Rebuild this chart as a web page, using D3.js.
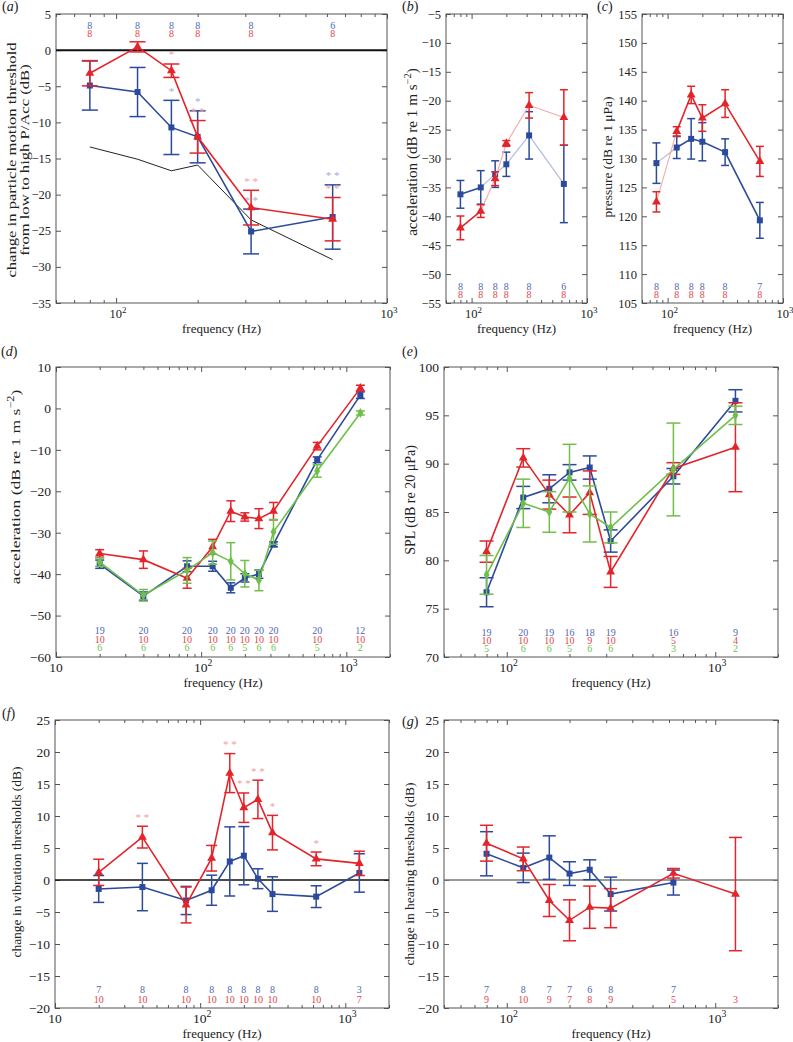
<!DOCTYPE html>
<html><head><meta charset="utf-8">
<script src="https://cdn.jsdelivr.net/npm/d3@7"></script>
<style>body{margin:0;background:#fff}svg{display:block}</style>
</head><body><script>
// ---------------- DATA ----------------
const freqABC = [80, 120, 160, 200, 315, 630];
// (a) change in particle-motion threshold
const aBlue    = [-4.9, -5.8, -10.7, -12.0, -25.1, -23.1];
const aBlueErr = [3.4, 3.4, 3.75, 3.6, 3.1, 4.45];
const aRed     = [-3.2, 0.45, -2.85, -12.0, -21.8, -23.4];
const aRedErr  = [1.75, 0.7, 0.93, 2.25, 2.4, 3.0];
const aModel   = [-13.4, -15.1, -16.7, -15.9, -23.5, -29.0];
const aBlueN   = [8, 8, 8, 8, 8, 6];
const aRedN    = [8, 8, 8, 8, 8, 8];
const aBlueSig = ["", "", "*", "*", "* *", "* *"];
const aRedSig  = ["", "", "*", "* *", "* *", "* *"];
// (b) acceleration
const bBlue    = [-36.2, -35.0, -32.7, -31.0, -26.0, -34.4];
const bBlueErr = [2.4, 2.9, 2.3, 2.1, 4.1, 6.7];
const bRed     = [-42.0, -39.1, -33.5, -27.4, -20.8, -22.9];
const bRedErr  = [2.05, 1.1, 1.2, 0.5, 2.2, 4.8];
const bBlueN   = [8, 8, 8, 8, 8, 6];
const bRedN    = [8, 8, 8, 8, 8, 8];
// (c) pressure
const cBlue    = [129.2, 131.9, 133.4, 132.9, 131.1, 119.3];
const cBlueErr = [3.5, 1.9, 3.5, 3.3, 2.3, 3.1];
const cRed     = [122.5, 134.7, 141.0, 137.0, 139.5, 129.5];
const cRedErr  = [1.75, 0.8, 1.5, 2.3, 2.4, 2.6];
const cBlueN   = [8, 8, 8, 8, 8, 7];
const cRedN    = [8, 8, 8, 8, 8, 8];
// (d) acceleration, three groups
const freqDF   = [20, 40, 80, 120, 160, 200, 250, 315, 630, 1250];
const dBlue     = [-37.6, -45.3, -38.1, -38.1, -43.3, -40.9, -40.0, -32.8, -12.4, 3.2];
const dBlueErr  = [1.0, 1.0, 1.3, 1.2, 1.2, 1.0, 1.0, 0.6, 0.7, 0.8];
const dRed      = [-35.0, -36.5, -41.0, -33.4, -24.8, -26.2, -26.6, -24.8, -9.1, 4.9];
const dRedErr   = [0.9, 2.1, 2.4, 1.8, 2.5, 1.0, 2.4, 2.1, 0.9, 0.7];
const dGreen    = [-37.1, -45.1, -39.1, -34.8, -36.9, -39.9, -41.5, -29.8, -15.1, -1.1];
const dGreenErr = [1.0, 1.4, 3.1, 2.8, 4.5, 3.2, 2.5, 3.0, 1.5, 0.5];
const dBlueN  = [19, 20, 20, 20, 20, 20, 20, 20, 20, 12];
const dRedN   = [10, 10, 10, 10, 10, 10, 10, 10, 10, 10];
const dGreenN = [6, 6, 6, 6, 6, 5, 6, 6, 5, 2];
// (e) SPL, three groups
const freqEG   = [80, 120, 160, 200, 250, 315, 630, 1250];
const eBlue     = [76.7, 86.5, 87.4, 89.1, 89.6, 82.0, 88.7, 96.5];
const eBlueErr  = [1.5, 1.15, 1.45, 0.8, 1.2, 1.15, 0.8, 1.15];
const eRed      = [80.9, 90.6, 86.8, 84.7, 87.0, 78.8, 89.5, 91.7];
const eRedErr   = [1.1, 0.95, 1.5, 1.85, 2.25, 1.6, 0.6, 4.6];
const eGreen    = [78.5, 85.9, 85.0, 88.5, 84.8, 83.4, 89.4, 95.0];
const eGreenErr = [2.0, 2.5, 2.1, 3.5, 2.9, 1.6, 4.8, 0.95];
const eBlueN  = [19, 20, 19, 16, 18, 19, 16, 9];
const eRedN   = [10, 10, 10, 10, 9, 10, 5, 4];
const eGreenN = [5, 6, 6, 5, 6, 6, 3, 2];
// (f) change in vibration thresholds
const fBlue    = [-1.4, -1.1, -3.2, -1.6, 2.9, 3.8, 0.2, -2.2, -2.6, 1.1];
const fBlueErr = [2.1, 3.7, 2.2, 2.35, 5.4, 4.55, 1.55, 2.7, 1.7, 3.0];
const fRed     = [1.2, 6.7, -3.9, 3.4, 16.7, 11.3, 12.6, 7.4, 3.3, 2.6];
const fRedErr  = [2.05, 1.7, 2.8, 2.0, 3.05, 2.3, 3.0, 2.7, 1.07, 1.9];
const fRedSig  = ["", "* *", "", "", "* *", "* *", "* *", "*", "*", ""];
const fBlueN   = [7, 8, 8, 8, 8, 8, 8, 8, 8, 3];
const fRedN    = [10, 10, 10, 10, 10, 10, 10, 10, 10, 7];
// (g) change in hearing thresholds (blue has no 1250 Hz point)
const gBlue    = [4.1, 1.9, 3.5, 1.0, 1.6, -2.2, -0.4];
const gBlueErr = [3.45, 2.3, 3.4, 1.85, 1.55, 2.65, 1.95];
const gRed     = [5.75, 3.3, -3.2, -6.3, -4.25, -4.4, 1.05, -2.2];
const gRedErr  = [2.8, 1.85, 2.5, 3.2, 3.3, 3.05, 0.75, 8.85];
const gBlueN   = [7, 8, 7, 7, 6, 8, 7];
const gRedN    = [9, 10, 9, 7, 8, 9, 5, 3];

// ---------------- DRAWING ----------------
const FONT = '"Liberation Serif","Times New Roman",serif';
const svg = d3.select("body").append("svg").attr("width", 793).attr("height", 1042)
  .style("font-family", FONT);
const C = {blue:"#2c4a9c", red:"#e3242b", green:"#6fbf4a",
  blueT:"#4f67b0", redT:"#e5454a", greenT:"#6fbf4a",
  blueS:"#a2acd6", redS:"#f1a0a3", blueP:"#aeb7dc", redP:"#f5aaac", axis:"#555", text:"#222"};

function panel(p) {
  const g = svg.append("g");
  const x = d3.scaleLog().domain(p.xdom).range([p.left, p.right]);
  const y = d3.scaleLinear().domain(p.ydom).range([p.bottom, p.top]);
  const major = [], minor = [];
  for (let e = Math.floor(Math.log10(p.xdom[0])); e <= Math.ceil(Math.log10(p.xdom[1])); e++)
    for (let m = 1; m < 10; m++) {
      const v = m * Math.pow(10, e);
      if (v < p.xdom[0] * 0.999 || v > p.xdom[1] * 1.001) continue;
      (m === 1 ? major : minor).push(v);
    }
  const yt = d3.range(p.ydom[0], p.ydom[1] + 1e-9, p.ystep);
  function ax(fn, sc, vals, size, tx, ty) {
    const a = g.append("g").attr("transform", `translate(${tx},${ty})`)
      .call(fn(sc).tickValues(vals).tickSizeInner(-size).tickSizeOuter(0).tickFormat(""));
    a.select(".domain").remove();
    a.selectAll("line").attr("stroke", C.axis);
  }
  ax(d3.axisBottom, x, major, 5, 0, p.bottom);
  ax(d3.axisBottom, x, minor, 3, 0, p.bottom);
  ax(d3.axisTop, x, major, 5, 0, p.top);
  ax(d3.axisTop, x, minor, 3, 0, p.top);
  ax(d3.axisRight, y, yt, 5, p.right, 0);
  const la = g.append("g").attr("transform", `translate(${p.left},0)`)
    .call(d3.axisLeft(y).tickValues(yt).tickSizeInner(-5).tickSizeOuter(0).tickPadding(5)
      .tickFormat(d3.format("d")));
  la.attr("font-family", null).attr("font-size", p.tickFs);
  la.select(".domain").remove();
  la.selectAll("line").attr("stroke", C.axis);
  la.selectAll("text").attr("fill", C.text);
  // x tick labels
  major.forEach(v => {
    const ex = Math.round(Math.log10(v));
    const t = g.append("text").attr("x", x(v) + (ex > 1 ? 2 : 0)).attr("y", p.bottom + 15)
      .attr("text-anchor", "middle").attr("font-size", p.tickFs).attr("fill", C.text);
    t.append("tspan").text("10");
    if (ex > 1) t.append("tspan").attr("dy", -p.tickFs * 0.42).attr("font-size", p.tickFs * 0.72).text(ex);
  });
  // box
  g.append("rect").attr("x", p.left).attr("y", p.top).attr("width", p.right - p.left)
    .attr("height", p.bottom - p.top).attr("fill", "none").attr("stroke", C.axis).attr("stroke-width", 1);
  // x label
  g.append("text").attr("x", (p.left + p.right) / 2).attr("y", p.bottom + 30).attr("text-anchor", "middle")
    .attr("font-size", 13).attr("fill", C.text).text("frequency (Hz)");
  // panel letter
  const pl = g.append("text").attr("x", p.tagX).attr("y", p.tagY).attr("font-size", 14).attr("fill", C.text);
  pl.append("tspan").text("(");
  pl.append("tspan").attr("font-style", "italic").text(p.tag);
  pl.append("tspan").text(")");
  // y label(s)
  p.ylab.forEach(l => {
    const t = g.append("text").attr("transform", `translate(${l.x},${l.y}) rotate(-90) scale(${l.sx || 1},1)`)
      .attr("text-anchor", "middle").attr("dy", "0.35em").attr("font-size", l.fs).attr("fill", C.text);
    l.parts.forEach(pt => {
      const ts = t.append("tspan").text(pt.t);
      if (pt.sup) ts.attr("dy", -l.fs * 0.4).attr("font-size", l.fs * 0.7);
      if (pt.down) ts.attr("dy", l.fs * 0.4);
    });
  });
  if (p.zero) {
    g.append("line").attr("x1", p.left).attr("x2", p.right).attr("y1", y(0)).attr("y2", y(0))
      .attr("stroke", p.zero.c).attr("stroke-width", p.zero.w);
  }
  const line = d3.line().x(d => x(d.f)).y(d => y(d.v));
  (p.plain || []).forEach(s => {
    const pts = s.f.map((f, i) => ({f, v: s.v[i]}));
    g.append("path").datum(pts).attr("d", line).attr("fill", "none").attr("stroke", s.c).attr("stroke-width", 1);
  });
  p.series.forEach(s => {
    const pts = s.f.map((f, i) => ({f, v: s.v[i], e: s.e[i]}));
    // connecting line
    if (s.seg) {
      for (let i = 1; i < pts.length; i++) {
        g.append("path").datum([pts[i - 1], pts[i]]).attr("d", line).attr("fill", "none")
          .attr("stroke", s.seg(i - 1)).attr("stroke-width", s.segW ? s.segW(i - 1) : 1.5);
      }
    } else {
      g.append("path").datum(pts).attr("d", line).attr("fill", "none").attr("stroke", s.c).attr("stroke-width", 1.6);
    }
    // error bars
    const eb = g.append("g").attr("stroke", s.c).attr("stroke-width", 1.5).attr("fill", "none");
    pts.forEach(d => {
      const cx = x(d.f), y1 = y(d.v + d.e), y2 = y(d.v - d.e), h = p.capW / 2;
      eb.append("line").attr("x1", cx).attr("x2", cx).attr("y1", y1).attr("y2", y2);
      eb.append("line").attr("x1", cx - h).attr("x2", cx + h).attr("y1", y1).attr("y2", y1);
      eb.append("line").attr("x1", cx - h).attr("x2", cx + h).attr("y1", y2).attr("y2", y2);
    });
    // markers
    g.append("g").selectAll("path").data(pts).enter().append("path")
      .attr("d", d3.symbol(s.sym, s.size)).attr("fill", s.c)
      .attr("transform", d => `translate(${x(d.f)},${y(d.v)})`);
    // significance stars
    if (s.sig) {
      pts.forEach((d, i) => {
        if (!s.sig[i]) return;
        g.append("text").attr("x", x(d.f)).attr("y", y(d.v + d.e) - 5.5).attr("text-anchor", "middle")
          .attr("font-size", 11).attr("fill", s.sigC).text(s.sig[i]);
      });
    }
  });
  // sample sizes
  (p.counts || []).forEach(r => {
    r.n.forEach((n, i) => {
      g.append("text").attr("x", x(r.f[i])).attr("y", r.y).attr("text-anchor", "middle")
        .attr("font-size", 10).attr("fill", r.c).text(n);
    });
  });
}

const SQ = d3.symbolSquare, TR = d3.symbolTriangle, DI = d3.symbolDiamond;
const accParts = [{t:"acceleration (dB re 1 m s"}, {t:"−2", sup:true}, {t:")", down:true}];

panel({tag:"a", tagX:2, tagY:11, left:56, right:387, top:14, bottom:303, xdom:[60,1000], ydom:[-35,5], ystep:5,
  tickFs:12.5, capW:16, zero:{c:"#111", w:2},
  ylab:[{x:12, y:160, fs:12.5, sx:1.33, parts:[{t:"change in particle motion threshold"}]},
        {x:25, y:160, fs:12.5, sx:1.33, parts:[{t:"from low to high P/Acc (dB)"}]}],
  plain:[{f:freqABC, v:aModel, c:"#222"}],
  series:[
    {f:freqABC, v:aBlue, e:aBlueErr, c:C.blue, sym:SQ, size:36, sig:aBlueSig, sigC:C.blueS},
    {f:freqABC, v:aRed, e:aRedErr, c:C.red, sym:TR, size:34, sig:aRedSig, sigC:C.redS}],
  counts:[{f:freqABC, n:aBlueN, c:C.blueT, y:28.5}, {f:freqABC, n:aRedN, c:C.redT, y:37}]});

panel({tag:"b", tagX:402, tagY:11, left:446, right:587, top:14, bottom:303, xdom:[60,1000], ydom:[-55,-5], ystep:5,
  tickFs:12.5, capW:8,
  ylab:[{x:412, y:152, fs:14, sx:1.08, parts:accParts}],
  series:[
    {f:freqABC, v:bBlue, e:bBlueErr, c:C.blue, sym:SQ, size:36, seg:i => i === 0 ? C.blue : C.blueP, segW:i => i === 0 ? 1.6 : 1.1},
    {f:freqABC, v:bRed, e:bRedErr, c:C.red, sym:TR, size:34, seg:i => i === 0 ? C.red : C.redP, segW:i => i === 0 ? 1.6 : 1.1}],
  counts:[{f:freqABC, n:bBlueN, c:C.blueT, y:289.5}, {f:freqABC, n:bRedN, c:C.redT, y:297.5}]});

panel({tag:"c", tagX:597, tagY:11, left:642, right:783, top:14, bottom:303, xdom:[60,1000], ydom:[105,155], ystep:5,
  tickFs:12.5, capW:8,
  ylab:[{x:607, y:157, fs:13.5, parts:[{t:"pressure (dB re 1 μPa)"}]}],
  series:[
    {f:freqABC, v:cBlue, e:cBlueErr, c:C.blue, sym:SQ, size:36, seg:i => i === 0 ? C.blueP : C.blue, segW:i => i === 0 ? 1.1 : 1.6},
    {f:freqABC, v:cRed, e:cRedErr, c:C.red, sym:TR, size:34, seg:i => i === 0 ? C.redP : C.red, segW:i => i === 0 ? 1.1 : 1.6}],
  counts:[{f:freqABC, n:cBlueN, c:C.blueT, y:289.5}, {f:freqABC, n:cRedN, c:C.redT, y:297.5}]});

panel({tag:"d", tagX:1, tagY:356, left:56, right:390, top:367, bottom:657, xdom:[10,2000], ydom:[-60,10], ystep:10,
  tickFs:13.5, capW:9,
  ylab:[{x:15, y:487, fs:13.5, sx:1.3, parts:accParts}],
  series:[
    {f:freqDF, v:dBlue, e:dBlueErr, c:C.blue, sym:SQ, size:36},
    {f:freqDF, v:dRed, e:dRedErr, c:C.red, sym:TR, size:34},
    {f:freqDF, v:dGreen, e:dGreenErr, c:C.green, sym:DI, size:30}],
  counts:[{f:freqDF, n:dBlueN, c:C.blueT, y:634}, {f:freqDF, n:dRedN, c:C.redT, y:642.5}, {f:freqDF, n:dGreenN, c:C.greenT, y:651}]});

panel({tag:"e", tagX:402, tagY:356, left:444, right:778, top:367, bottom:657, xdom:[50,2000], ydom:[70,100], ystep:5,
  tickFs:13.5, capW:14,
  ylab:[{x:410, y:500, fs:14, parts:[{t:"SPL (dB re 20 μPa)"}]}],
  series:[
    {f:freqEG, v:eBlue, e:eBlueErr, c:C.blue, sym:SQ, size:36},
    {f:freqEG, v:eRed, e:eRedErr, c:C.red, sym:TR, size:34},
    {f:freqEG, v:eGreen, e:eGreenErr, c:C.green, sym:DI, size:30}],
  counts:[{f:freqEG, n:eBlueN, c:C.blueT, y:635.5}, {f:freqEG, n:eRedN, c:C.redT, y:643.5}, {f:freqEG, n:eGreenN, c:C.greenT, y:651.5}]});

panel({tag:"f", tagX:2, tagY:718, left:55, right:389, top:720, bottom:1008, xdom:[10,2000], ydom:[-20,25], ystep:5,
  tickFs:13.5, capW:11, zero:{c:"#111", w:1.6},
  ylab:[{x:16, y:862, fs:13.5, parts:[{t:"change in vibration thresholds (dB)"}]}],
  series:[
    {f:freqDF, v:fBlue, e:fBlueErr, c:C.blue, sym:SQ, size:36},
    {f:freqDF, v:fRed, e:fRedErr, c:C.red, sym:TR, size:34, sig:fRedSig, sigC:C.redS}],
  counts:[{f:freqDF, n:fBlueN, c:C.blueT, y:993}, {f:freqDF, n:fRedN, c:C.redT, y:1003}]});

panel({tag:"g", tagX:402, tagY:726, left:444, right:778, top:720, bottom:1008, xdom:[50,2000], ydom:[-20,25], ystep:5,
  tickFs:13.5, capW:13, zero:{c:"#777", w:1.6},
  ylab:[{x:409, y:874, fs:13.5, parts:[{t:"change in hearing thresholds (dB)"}]}],
  series:[
    {f:freqEG.slice(0, gBlue.length), v:gBlue, e:gBlueErr, c:C.blue, sym:SQ, size:36},
    {f:freqEG, v:gRed, e:gRedErr, c:C.red, sym:TR, size:34}],
  counts:[{f:freqEG, n:gBlueN, c:C.blueT, y:993}, {f:freqEG, n:gRedN, c:C.redT, y:1003}]});
</script></body></html>
